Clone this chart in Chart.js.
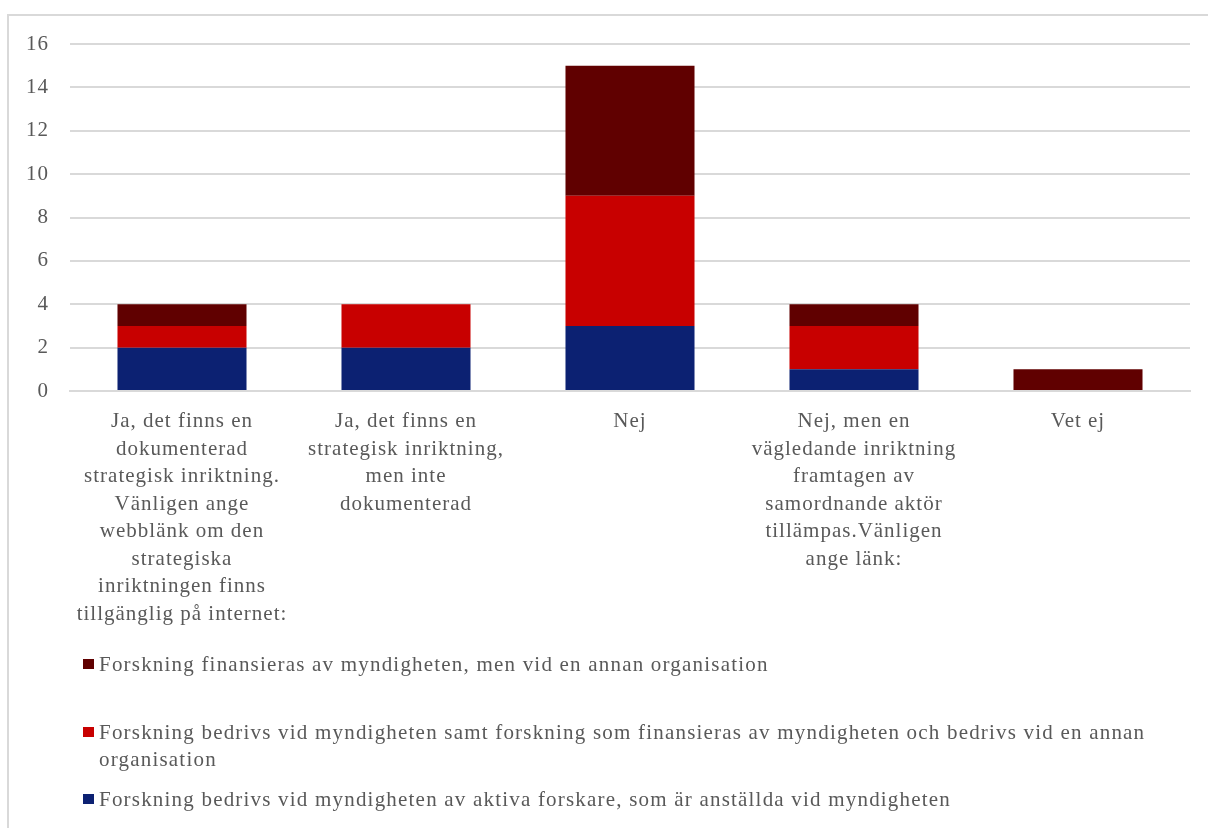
<!DOCTYPE html>
<html>
<head>
<meta charset="utf-8">
<script src="https://cdn.jsdelivr.net/npm/chart.js@4.4.1/dist/chart.umd.min.js"></script>
<style>
  html, body { margin: 0; padding: 0; background: #fff; overflow: hidden; }
  body { width: 1208px; height: 828px; position: relative; font-family: "Liberation Serif", "Times New Roman", serif; }
  #frame { position: absolute; left: 7px; top: 14px; width: 1400px; height: 1000px; border: 2px solid #d9d9d9; box-sizing: border-box; }
  #wrap { position: absolute; left: 0; top: 0; width: 1208px; height: 640px; }
  #legend { position: absolute; left: 0; top: 0; width: 1208px; height: 828px; pointer-events: none; }
  .item { position: absolute; left: 83px; width: 1100px; font-size: 21px; letter-spacing: 1.2px; line-height: 27px; color: #595959; padding-left: 16px; box-sizing: border-box; }
  .item .sw { position: absolute; left: 0; top: 8px; width: 11px; height: 10px; }
</style>
</head>
<body>
<div id="frame"></div>
<div id="wrap"><canvas id="chart"></canvas></div>
<div id="legend"></div>
<script>
// kategorier (radbrutna som i originalet)
const categories = [
  ["Ja, det finns en", "dokumenterad", "strategisk inriktning.", "Vänligen ange", "webblänk om den", "strategiska", "inriktningen finns", "tillgänglig på internet:"],
  ["Ja, det finns en", "strategisk inriktning,", "men inte", "dokumenterad"],
  ["Nej"],
  ["Nej, men en", "vägledande inriktning", "framtagen av", "samordnande aktör", "tillämpas.Vänligen", "ange länk:"],
  ["Vet ej"]
];

const seriesNames = [
  "Forskning bedrivs vid myndigheten av aktiva forskare, som är anställda vid myndigheten",
  "Forskning bedrivs vid myndigheten samt forskning som finansieras av myndigheten och bedrivs vid en annan organisation",
  "Forskning finansieras av myndigheten, men vid en annan organisation"
];

const aktivaForskare = [2, 2, 3, 1, 0];
const bedrivsOchFinansieras = [1, 2, 6, 2, 0];
const finansierasAnnan = [1, 0, 6, 1, 1];

const yTicks = [0, 2, 4, 6, 8, 10, 12, 14, 16];

const colors = ["#0c2172", "#c80000", "#600000"];
const textColor = "#595959";
const gridColor = "#d9d9d9";

Chart.defaults.font.family = '"Liberation Serif", "Times New Roman", serif';
Chart.defaults.font.size = 21;
Chart.defaults.color = textColor;

// lite bredare teckenavstånd, som i originalet
const spacing = {
  id: "spacing",
  beforeUpdate(chart) { chart.ctx.letterSpacing = "1px"; },
  beforeDraw(chart) { chart.ctx.letterSpacing = "1px"; }
};

const ctx = document.getElementById("chart").getContext("2d");
const chart = new Chart(ctx, {
  type: "bar",
  plugins: [spacing],
  data: {
    labels: categories,
    datasets: [
      { label: seriesNames[0], data: aktivaForskare, backgroundColor: colors[0] },
      { label: seriesNames[1], data: bedrivsOchFinansieras, backgroundColor: colors[1] },
      { label: seriesNames[2], data: finansierasAnnan, backgroundColor: colors[2] }
    ]
  },
  options: {
    responsive: true,
    maintainAspectRatio: false,
    animation: false,
    layout: { padding: { top: 44, right: 18, left: 0, bottom: 0 } },
    plugins: {
      legend: { display: false },
      tooltip: { enabled: false }
    },
    datasets: {
      bar: { categoryPercentage: 1, barPercentage: 0.576, borderWidth: 0 }
    },
    scales: {
      x: {
        stacked: true,
        grid: { display: false },
        border: { display: true, color: gridColor, width: 2 },
        ticks: { padding: 9, maxRotation: 0, autoSkip: false, font: { size: 21, lineHeight: 1.31 }, color: textColor },
        afterFit: (scale) => { scale.height = 640 - 391; }
      },
      y: {
        stacked: true,
        min: 0,
        max: 16,
        afterBuildTicks: (scale) => { scale.ticks = yTicks.map(v => ({ value: v })); },
        grid: { color: gridColor, lineWidth: 2, drawTicks: false },
        border: { display: false },
        ticks: { padding: 21, font: { size: 21 }, color: textColor },
        afterFit: (scale) => { scale.width = 70; }
      }
    }
  }
});

// legend i omvänd ordning, placerad som i originalet
const legendTops = [651, 719, 786];
const legendEl = document.getElementById("legend");
chart.data.datasets.slice().reverse().forEach((ds, i) => {
  const item = document.createElement("div");
  item.className = "item";
  item.style.top = legendTops[i] + "px";
  const sw = document.createElement("span");
  sw.className = "sw";
  sw.style.background = ds.backgroundColor;
  item.appendChild(sw);
  item.appendChild(document.createTextNode(ds.label));
  legendEl.appendChild(item);
});
</script>
</body>
</html>
